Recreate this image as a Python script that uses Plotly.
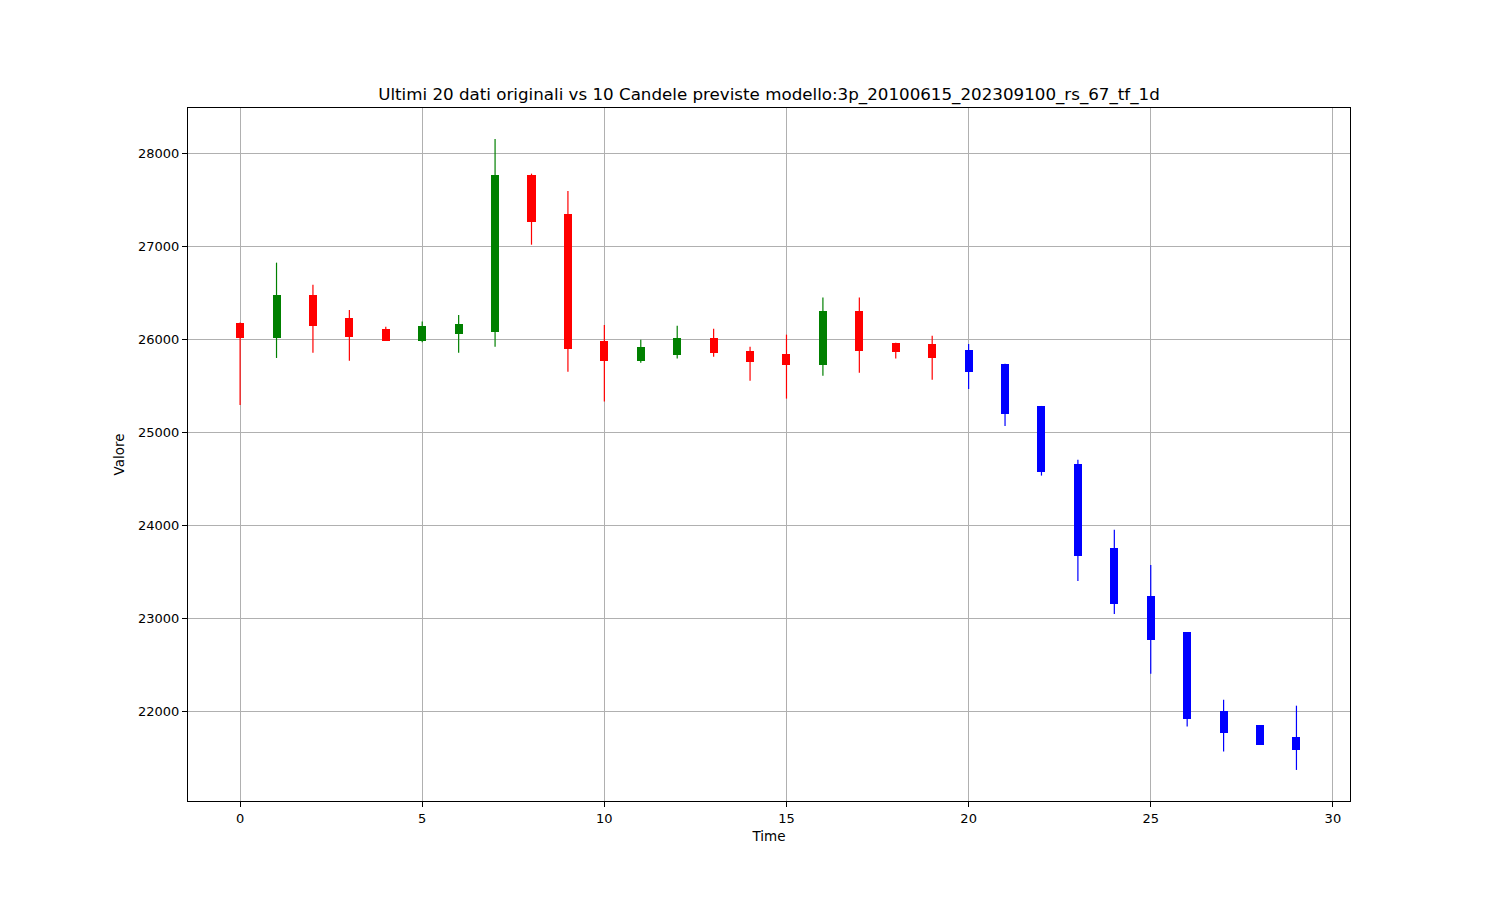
import plotly.graph_objects as go

# Data (20 historical candles + 10 predicted)
time_idx = list(range(30))
open_ = [26180, 26017, 26480, 26233, 26111, 25985, 26060, 26082, 27770, 27351,
         25985, 25770, 25831, 26017, 25878, 25846, 25727, 26308, 25964, 25953,
         25885, 25738, 25283, 24662, 23756, 23240, 22853, 22003, 21853, 21724]
close = [26017, 26480, 26146, 26029, 25985, 26146, 26168, 27770, 27265, 25896,
         25770, 25921, 26017, 25856, 25760, 25727, 26308, 25878, 25867, 25803,
         25648, 25197, 24577, 23673, 23154, 22770, 21921, 21770, 21638, 21584]
high = [26180, 26824, 26587, 26315, 26136, 26190, 26261, 28154, 27781, 27595,
        26154, 25996, 26146, 26114, 25921, 26050, 26448, 26448, 25964, 26039,
        25949, 25738, 25283, 24705, 23953, 23573, 22853, 22125, 21853, 22060]
low = [25294, 25799, 25856, 25770, 25985, 25967, 25856, 25921, 27017, 25652,
       25330, 25748, 25792, 25813, 25555, 25362, 25609, 25641, 25792, 25566,
       25466, 25068, 24534, 23401, 23046, 22404, 21835, 21566, 21638, 21369]
n_hist = 20

title_text = "Ultimi 20 dati originali vs 10 Candele previste modello:3p_20100615_202309100_rs_67_tf_1d"
x_ticks = [0, 5, 10, 15, 20, 25, 30]
y_ticks = [22000, 23000, 24000, 25000, 26000, 27000, 28000]


def color_of(i):
    if i >= n_hist:
        return "#0000ff"
    return "#008000" if close[i] >= open_[i] else "#ff0000"


fig = go.Figure()

# wicks
for col in ["#ff0000", "#008000", "#0000ff"]:
    xs, ys = [], []
    for i in time_idx:
        if color_of(i) == col:
            xs += [i, i, None]
            ys += [low[i], high[i], None]
    fig.add_trace(go.Scatter(x=xs, y=ys, mode="lines",
                             line=dict(color=col, width=1.2),
                             hoverinfo="skip", showlegend=False))

# bodies
fig.add_trace(go.Bar(
    x=time_idx,
    y=[abs(c - o) for o, c in zip(open_, close)],
    base=[min(o, c) for o, c in zip(open_, close)],
    width=0.22,
    marker=dict(color=[color_of(i) for i in time_idx], line=dict(width=0)),
    hoverinfo="skip", showlegend=False,
))

axis_common = dict(
    showline=True, linecolor="black", linewidth=1, mirror=True,
    showgrid=True, gridcolor="#b0b0b0", gridwidth=1,
    ticks="outside", ticklen=5, tickcolor="black", tickwidth=1,
    zeroline=False,
    tickfont=dict(family="DejaVu Sans", size=13, color="black"),
)

fig.update_layout(
    width=1500, height=900,
    paper_bgcolor="white", plot_bgcolor="white",
    margin=dict(l=180, r=158, t=100, b=107),
    font=dict(family="DejaVu Sans", color="black"),
    title=dict(text=title_text, x=0.5, xanchor="center", xref="paper",
               y=1, yref="paper", yanchor="bottom", pad=dict(b=8),
               font=dict(family="DejaVu Sans", size=16.7, color="black")),
    xaxis=dict(range=[-1.43, 30.47], tickvals=x_ticks,
               title=dict(text="Time", font=dict(size=13.5), standoff=6),
               **axis_common),
    yaxis=dict(range=[21035, 28487], tickvals=y_ticks, tickformat="d",
               title=dict(text="Valore", font=dict(size=13.5), standoff=10),
               **axis_common),
    bargap=0,
)

fig.write_html("out.html", config={"displayModeBar": False})
